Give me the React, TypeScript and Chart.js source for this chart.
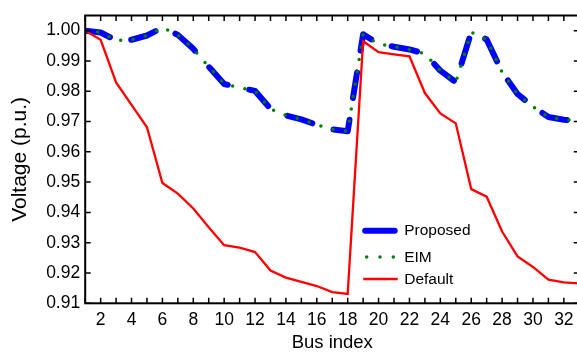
import React, { useEffect, useRef } from "react";
import { Chart, registerables } from "chart.js";

Chart.register(...registerables);

const busIndex = [1, 2, 3, 4, 5, 6, 7, 8, 9, 10, 11, 12, 13, 14, 15, 16, 17, 18, 19, 20, 21, 22, 23, 24, 25, 26, 27, 28, 29, 30, 31, 32, 33];

const proposedVoltage = [
  1.0, 0.9994, 0.9968, 0.997, 0.9984, 1.001, 0.9986, 0.994, 0.9881, 0.9824, 0.9812,
  0.9801, 0.9742, 0.972, 0.9707, 0.9689, 0.9674, 0.9668, 0.9988, 0.9956, 0.9947, 0.9938,
  0.9924, 0.9868, 0.983, 0.9995, 0.9971, 0.9863, 0.9791, 0.9749, 0.9715, 0.9706, 0.9702,
];

const eimVoltage = [
  1.0, 0.9994, 0.9968, 0.997, 0.9984, 1.001, 0.9986, 0.994, 0.9881, 0.9824, 0.9812,
  0.9801, 0.9742, 0.972, 0.9707, 0.9689, 0.9674, 0.9668, 0.9988, 0.9956, 0.9947, 0.9938,
  0.9924, 0.9868, 0.983, 0.9995, 0.9971, 0.9863, 0.9791, 0.9749, 0.9715, 0.9706, 0.9702,
];

const defaultVoltage = [
  1.0, 0.997, 0.9829, 0.9755, 0.9681, 0.9497, 0.9462, 0.9413, 0.9351, 0.9292, 0.9284,
  0.9269, 0.9208, 0.9185, 0.9171, 0.9157, 0.9137, 0.9131, 0.9965, 0.9929, 0.9922, 0.9915,
  0.9794, 0.9727, 0.9694, 0.9477, 0.9452, 0.9337, 0.9255, 0.922, 0.9178, 0.9169, 0.9166,
];

const xTickValues = [2, 4, 6, 8, 10, 12, 14, 16, 18, 20, 22, 24, 26, 28, 30, 32];
const yTickValues = [0.91, 0.92, 0.93, 0.94, 0.95, 0.96, 0.97, 0.98, 0.99, 1.0];

const FONT = "'Liberation Sans', Arial, Helvetica, sans-serif";

const toPoints = (vals: number[]) => busIndex.map((b, i) => ({ x: b, y: vals[i] }));

const framePlugin = {
  id: "frameTicks",
  afterDraw(chart: any) {
    const { ctx, chartArea, scales } = chart;
    const { left, right, top, bottom } = chartArea;
    const x = scales.x;
    const y = scales.y;
    ctx.save();
    ctx.strokeStyle = "#000";
    ctx.lineWidth = 1.5;
    ctx.beginPath();
    for (const b of busIndex) {
      const px = x.getPixelForValue(b);
      ctx.moveTo(px, bottom);
      ctx.lineTo(px, bottom - 5.5);
      ctx.moveTo(px, top);
      ctx.lineTo(px, top + 5.5);
    }
    for (const v of yTickValues) {
      const py = y.getPixelForValue(v);
      ctx.moveTo(left, py);
      ctx.lineTo(left + 5.5, py);
      ctx.moveTo(right, py);
      ctx.lineTo(right - 5.5, py);
    }
    ctx.stroke();
    ctx.lineWidth = 2;
    ctx.strokeRect(left, top, right - left, bottom - top);
    ctx.restore();
  },
};

const legendRowsY = [230.7, 257, 279];
const legendPlugin = {
  id: "insideLegend",
  afterDraw(chart: any) {
    const { ctx, chartArea } = chart;
    const x0 = chartArea.left + 280;
    const x1 = chartArea.left + 309.5;
    const textX = chartArea.left + 319;
    ctx.save();
    chart.data.datasets.forEach((ds: any, i: number) => {
      const yy = legendRowsY[i];
      ctx.beginPath();
      ctx.strokeStyle = ds.borderColor;
      ctx.lineWidth = ds.borderWidth;
      ctx.lineCap = ds.borderCapStyle || "butt";
      const dash = ds.borderDash || [];
      if (dash.length && dash[0] === 0) {
        ctx.setLineDash([0, 13.3]);
        ctx.moveTo(x0 + 1.5, yy);
        ctx.lineTo(x1, yy);
      } else {
        ctx.setLineDash([]);
        if (ctx.lineCap === "round") {
          ctx.moveTo(x0, yy);
          ctx.lineTo(x1, yy);
        } else {
          ctx.moveTo(x0 - 2, yy);
          ctx.lineTo(x1 + 3, yy);
        }
      }
      ctx.stroke();
      ctx.setLineDash([]);
      ctx.fillStyle = "#000";
      ctx.font = `15.5px ${FONT}`;
      ctx.textAlign = "left";
      ctx.textBaseline = "middle";
      ctx.fillText(ds.label, textX, yy + 0.5);
    });
    ctx.restore();
  },
};

export default function App() {
  const ref = useRef<HTMLCanvasElement>(null);
  useEffect(() => {
    const canvas = ref.current;
    if (!canvas) return;
    Chart.defaults.font.family = FONT;
    const chart = new Chart(canvas, {
      type: "line",
      data: {
        datasets: [
          {
            label: "Proposed",
            data: toPoints(proposedVoltage),
            borderColor: "#0000ff",
            backgroundColor: "#0000ff",
            borderWidth: 6,
            borderDash: [26, 22],
            borderCapStyle: "round",
            borderJoinStyle: "round",
            pointRadius: 0,
            tension: 0,
            fill: false,
            order: 3,
          },
          {
            label: "EIM",
            data: toPoints(eimVoltage),
            borderColor: "#008000",
            backgroundColor: "#008000",
            borderWidth: 3.5,
            borderDash: [0, 12.5],
            borderCapStyle: "round",
            pointRadius: 0,
            tension: 0,
            fill: false,
            order: 2,
          },
          {
            label: "Default",
            data: toPoints(defaultVoltage),
            borderColor: "#ff0000",
            backgroundColor: "#ff0000",
            borderWidth: 2.3,
            pointRadius: 0,
            tension: 0,
            fill: false,
            order: 1,
          },
        ],
      } as any,
      options: {
        responsive: false,
        animation: false,
        devicePixelRatio: 1,
        layout: { padding: { top: 12.7, right: 2.7, bottom: 0, left: 0 } },
        plugins: { legend: { display: false }, tooltip: { enabled: false } },
        scales: {
          x: {
            type: "linear",
            min: 1,
            max: 33,
            grid: { display: false, drawTicks: false, tickLength: 0 },
            border: { display: false },
            afterBuildTicks: (s: any) => {
              s.ticks = xTickValues.map((v) => ({ value: v }));
            },
            afterFit: (s: any) => {
              s.height = 48.7;
            },
            ticks: {
              autoSkip: false,
              maxRotation: 0,
              minRotation: 0,
              padding: 6,
              color: "#000",
              font: { size: 17.5 },
              callback: (v: any) => String(v),
            },
            title: {
              display: true,
              text: "Bus index",
              color: "#000",
              font: { size: 18.5, lineHeight: 1 },
              padding: 0,
            },
          },
          y: {
            type: "linear",
            min: 0.91,
            max: 1.005,
            grid: { display: false, drawTicks: false, tickLength: 0 },
            border: { display: false },
            afterBuildTicks: (s: any) => {
              s.ticks = yTickValues.map((v) => ({ value: v }));
            },
            afterFit: (s: any) => {
              s.width = 85.2;
            },
            ticks: {
              autoSkip: false,
              padding: 5,
              color: "#000",
              font: { size: 17.5 },
              callback: (v: any) => Number(v).toFixed(2),
            },
            title: {
              display: true,
              text: "Voltage (p.u.)",
              color: "#000",
              font: { size: 21, lineHeight: 1 },
              padding: { top: 9.5, bottom: 0 },
            },
          },
        },
      } as any,
      plugins: [framePlugin, legendPlugin],
    });
    return () => chart.destroy();
  }, []);
  return (
    <div
      style={{
        position: "fixed",
        left: 0,
        top: 0,
        width: 577,
        height: 352,
        overflow: "hidden",
        background: "#fff",
      }}
    >
      <canvas ref={ref} width={582} height={352} style={{ display: "block", width: 582, height: 352 }} />
    </div>
  );
}
